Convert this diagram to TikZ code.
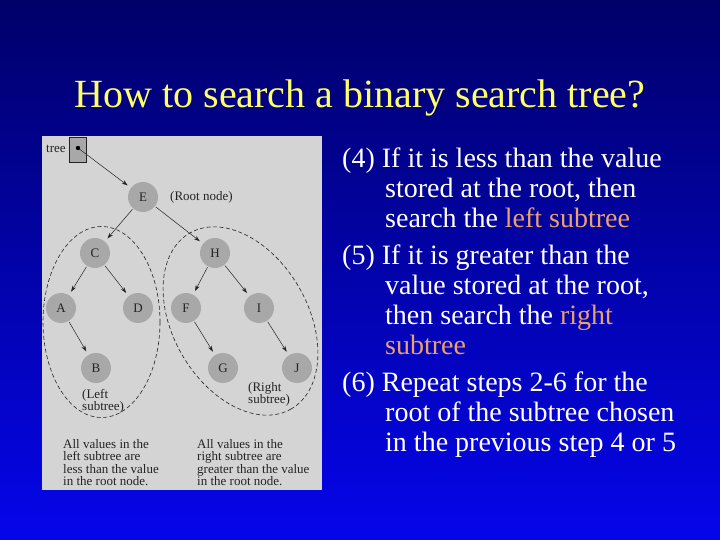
\documentclass[tikz,border=0pt]{standalone}
\usepackage{fontspec}
\setmainfont{Liberation Serif}
\usetikzlibrary{arrows.meta}
\definecolor{bgtop}{RGB}{0,0,105}
\definecolor{bgbot}{RGB}{5,5,235}
\definecolor{titlecol}{RGB}{255,255,102}
\definecolor{hl}{RGB}{235,160,110}
\definecolor{panelgrey}{RGB}{212,212,212}
\definecolor{nodegrey}{RGB}{168,168,168}
\definecolor{inkgrey}{RGB}{35,35,35}
\newcommand{\hang}{\hspace*{43pt}}
\tikzset{
  tnode/.style={circle, fill=nodegrey, minimum size=30pt, inner sep=0pt, text=inkgrey, font=\fontsize{13}{13}\selectfont},
  arr/.style={-{Stealth[length=6pt,width=4pt]}, line width=0.5pt, draw=inkgrey, shorten >=4pt, shorten <=1pt},
  subtreeline/.style={draw=inkgrey, line width=0.6pt, dash pattern=on 4pt off 2.5pt},
  smalltxt/.style={inner sep=0pt, text=inkgrey, align=left, font=\fontsize{13}{12.5}\selectfont},
  bodytxt/.style={inner sep=0pt, text=white, align=left, font=\fontsize{28}{30}\selectfont},
}
\begin{document}
\begin{tikzpicture}[x=1pt,y=-1pt]
\shade[top color=bgtop, bottom color=bgbot] (0,0) rectangle (720,540);
\useasboundingbox (0,0) rectangle (720,540);

% title
\node[anchor=base, inner sep=0pt, text=titlecol, font=\fontsize{40}{48}\selectfont] (title) at (360,108) {How to search a binary search tree?};

% panel
\fill[panelgrey] (42,136) rectangle (322,490);

% tree pointer
\node[smalltxt, anchor=base west] (treelbl) at (46,153) {tree};
\node[draw=inkgrey, fill=nodegrey, minimum width=17pt, minimum height=25pt, inner sep=0pt] (treebox) at (77.5,149.5) {};
\coordinate (treeptr) at (78,148);
\fill[black] (treeptr) circle (2.2pt);

% nodes
\node[tnode] (E) at (143,197) {E};
\node[smalltxt, anchor=west] (rootlbl) at (170,197) {(Root node)};
\node[tnode] (C) at (95,253) {C};
\node[tnode] (H) at (215,253) {H};
\node[tnode] (A) at (61,308) {A};
\node[tnode] (D) at (138,308) {D};
\node[tnode] (F) at (186,308) {F};
\node[tnode] (I) at (259,308) {I};
\node[tnode] (B) at (96,368) {B};
\node[tnode] (G) at (223,368) {G};
\node[tnode] (J) at (297,368) {J};

% arrows
\draw[arr] (treeptr) -- (E);
\draw[arr] (E) -- (C);
\draw[arr] (E) -- (H);
\draw[arr] (C) -- (A);
\draw[arr] (C) -- (D);
\draw[arr] (H) -- (F);
\draw[arr] (H) -- (I);
\draw[arr] (A) -- (B);
\draw[arr] (F) -- (G);
\draw[arr] (I) -- (J);

% subtree outlines
\draw[subtreeline] (101.5,322) ellipse [x radius=58.5, y radius=95.5];
\draw[subtreeline, rotate around={-60:(240.5,321)}] (240.5,321) ellipse [x radius=101.5, y radius=67.5];

\node[smalltxt, anchor=north west] (leftlbl) at (82,389) {(Left\\subtree)};
\node[smalltxt, anchor=north west] (rightlbl) at (248,382) {(Right\\subtree)};

\node[smalltxt, anchor=north west] (lefttxt) at (63,439) {All values in the\\left subtree are\\less than the value\\in the root node.};
\node[smalltxt, anchor=north west] (righttxt) at (197,439) {All values in the\\right subtree are\\greater than the value\\in the root node.};

% body text
\node[bodytxt, anchor=north west] (p4) at (342,148) {(4) If it is less than the value\\\hang stored at the root, then\\\hang search the \textcolor{hl}{left subtree}};
\node[bodytxt, anchor=north west] (p5) at (342,245) {(5) If it is greater than the\\\hang value stored at the root,\\\hang then search the \textcolor{hl}{right}\\\hang\textcolor{hl}{subtree}};
\node[bodytxt, anchor=north west] (p6) at (342,372) {(6) Repeat steps 2-6 for the\\\hang root of the subtree chosen\\\hang in the previous step 4 or 5};
\end{tikzpicture}
\end{document}
